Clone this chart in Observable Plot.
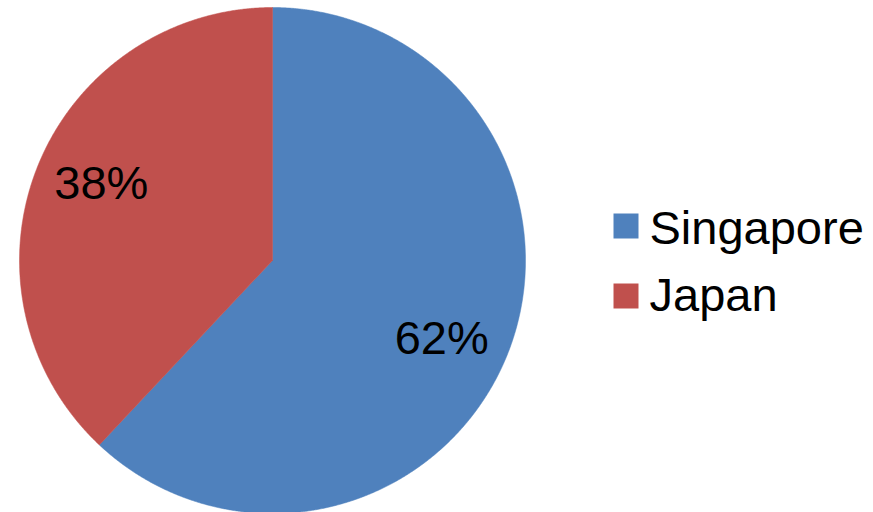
<!DOCTYPE html>
<html><head><meta charset="utf-8">
<script src="https://cdn.jsdelivr.net/npm/d3@7"></script>
<script src="https://cdn.jsdelivr.net/npm/@observablehq/plot@0.6"></script>
<style>html,body{margin:0;padding:0;background:#fff;overflow:hidden}</style>
</head><body><div id="chart"></div>
<script>
const categories = ["Singapore", "Japan"];
const values = [62, 38];
const labels = ["62%", "38%"];
const colors = ["#4F81BD", "#C0504D"];

// layout
const W = 873, H = 512, cx = 272, cy = 260, R = 253;
const font = "Liberation Sans, Arial, Helvetica, sans-serif";

const rows = categories.map((c, i) => ({category: c, value: values[i], label: labels[i], i}));
const arcs = d3.pie().sort(null).value(d => d.value)(rows);

const px = (a, r) => cx + r * Math.sin(a);
const py = (a, r) => cy - r * Math.cos(a);

function slicePoints(arc) {
  const pts = [{x: cx, y: cy}];
  const n = Math.ceil((arc.endAngle - arc.startAngle) / (Math.PI / 720));
  for (let k = 0; k <= n; k++) {
    const a = arc.startAngle + (arc.endAngle - arc.startAngle) * k / n;
    pts.push({x: px(a, R), y: py(a, R)});
  }
  pts.push({x: cx, y: cy});
  return pts;
}

const labelOffset = 3 * Math.PI / 180;
const labelData = arcs.map(a => {
  const m = (a.startAngle + a.endAngle) / 2 + labelOffset;
  return {label: a.data.label, x: px(m, 0.74 * R) - 1, y: py(m, 0.74 * R) + 1};
});

const legend = rows.map(d => ({
  category: d.category,
  sx: 625.5, sy: 225.5 + 70 * d.i,
  tx: 649, ty: 228.3 + 67 * d.i
}));

const marks = arcs.map((a, i) => Plot.line(slicePoints(a), {
  x: "x", y: "y", fill: colors[i], stroke: colors[i], strokeWidth: 0.5, curve: "linear"
}));

marks.push(Plot.text(labelData, {
  x: "x", y: "y", text: "label", fontSize: 47, fontFamily: font, fill: "#000", textAnchor: "middle"
}));
marks.push(Plot.dot(legend, {
  x: "sx", y: "sy", symbol: "square", r: 25 / Math.sqrt(Math.PI),
  fill: (d, i) => colors[i], stroke: "none"
}));
marks.push(Plot.text(legend, {
  x: "tx", y: "ty", text: "category", fontSize: 47, fontFamily: font, fill: "#000", textAnchor: "start"
}));

const chart = Plot.plot({
  width: W, height: H,
  margin: 0,
  x: {type: "identity"},
  y: {type: "identity"},
  axis: null,
  style: {background: "#fff", overflow: "hidden"},
  marks
});
document.getElementById("chart").append(chart);
</script>
</body></html>
